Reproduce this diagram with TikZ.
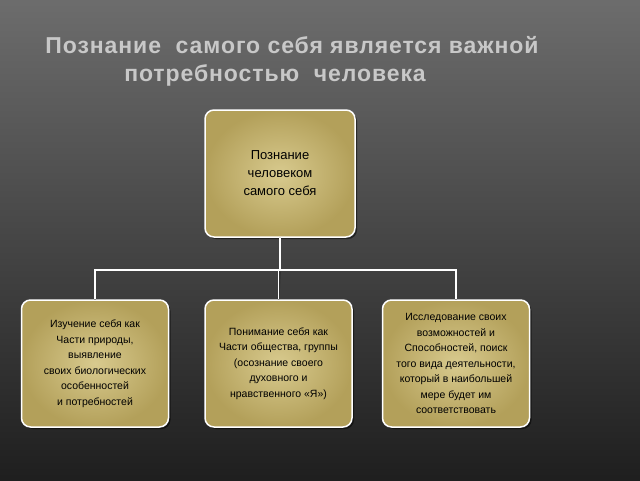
\documentclass[tikz,border=0pt]{standalone}
\usepackage{fontspec}
\setmainfont{Liberation Sans}
\newfontfamily\ttlfont[LetterSpace=4]{Liberation Sans}
\usetikzlibrary{shadows}
\definecolor{boxin}{HTML}{D8CA8E}
\definecolor{boxout}{HTML}{B3A05A}
\definecolor{titlec}{HTML}{C8C8C8}
\begin{document}
\begin{tikzpicture}[x=1pt,y=-1pt,
  card/.style={draw=white,line width=1.5pt,rounded corners=9pt,inner color=boxin,outer color=boxout,
    minimum width=147pt,minimum height=127pt,align=center,font=\fontsize{10.5}{15.5}\selectfont,text=black,
    drop shadow={shadow xshift=2pt,shadow yshift=-2pt,fill=black,opacity=0.5}},
  link/.style={white,line width=1.8pt},
  ttl/.style={text=titlec,font=\ttlfont\bfseries\fontsize{23}{27}\selectfont}]
\useasboundingbox (0,0) rectangle (640,480);
\shade[shading angle=225,top color=black!15!gray,bottom color=black!88] (0,0) rectangle (640,480);
\node[ttl] (t1) at (292,45) {Познание\ \ самого себя является важной};
\node[ttl] (t2) at (275,75) {потребностью\ \ человека};
\node[card,minimum width=150pt,font=\fontsize{13}{18}\selectfont] (top) at (280,173.5) {Познание\\ человеком\\ самого себя};
\node[card] (a) at (95,363.5) {Изучение себя как\\ Части природы,\\ выявление\\ своих биологических\\ особенностей\\ и потребностей};
\node[card] (b) at (278.5,363.5) {Понимание себя как\\ Части общества, группы\\ (осознание своего\\ духовного и\\ нравственного «Я»)};
\node[card] (c) at (456,363.5) {Исследование своих\\ возможностей и\\ Способностей, поиск\\ того вида деятельности,\\ который в наибольшей\\ мере будет им\\ соответствовать};
\coordinate (j) at (280,270);
\draw[black!80,line width=1.8pt,shift={(1.5,1.5)}] (top.south) -- (j) (a.north) |- (j) -| (c.north) (b.north) -- (278.5,270);
\draw[link] (top.south) -- (j) (a.north) |- (j) -| (c.north) (b.north) -- (278.5,270);
\end{tikzpicture}
\end{document}
